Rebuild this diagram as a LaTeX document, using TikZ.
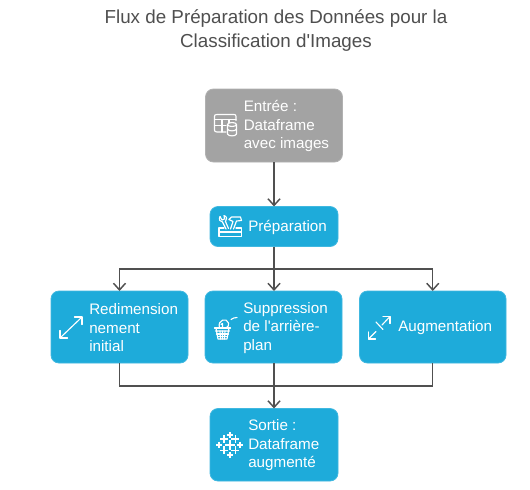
\documentclass[tikz,border=0pt]{standalone}
\usepackage{fontspec}
\setmainfont{Liberation Sans}[Ligatures=TeXOff]
\usetikzlibrary{arrows.meta,calc}
\definecolor{bluebox}{HTML}{1EABDA}
\definecolor{greybox}{HTML}{A3A3A3}
\definecolor{conn}{HTML}{505050}
\definecolor{titlec}{HTML}{4F4F4F}
\tikzset{
  x=0.75pt,y=-0.75pt,
  boxbase/.style={rounded corners=6pt,minimum height=0pt,inner sep=0pt,outer sep=0pt,draw=#1!85!white,line width=0.6pt,fill=#1},
  lbl/.style={text=white,font=\fontsize{11.4}{13.9}\selectfont,align=left,anchor=west,inner sep=0pt},
  flow/.style={draw=conn,line width=1.1pt},
  arrowflow/.style={flow,-{Straight Barb[length=5pt,width=9pt,line width=1.1pt]}},
  ico/.style={draw=white,line width=0.85pt,line cap=round,line join=round},
}
\newcommand{\bx}[6]{\node[boxbase=#6,minimum width=#4*0.75pt,minimum height=#5*0.75pt] (#1) at (#2,#3) {};}
\begin{document}
\begin{tikzpicture}
\useasboundingbox (0,0) rectangle (530,489);
\fill[white] (0,0) rectangle (530,489);
\node[text=titlec,font=\fontsize{14.1}{18}\selectfont,align=center] (title) at (276,31) {Flux de Préparation des Données pour la\\Classification d'Images};
\bx{in}{274}{125.5}{137}{73}{greybox}
\bx{prep}{274}{226.5}{128}{40}{bluebox}
\bx{redim}{119.5}{327}{137}{72}{bluebox}
\bx{supp}{273.5}{327}{137}{72}{bluebox}
\bx{aug}{432.75}{327}{146.5}{72}{bluebox}
\bx{out}{274}{444.75}{128}{72.5}{bluebox}
% labels
\node[lbl] (tin) at (243.5,126) {Entrée :\\Dataframe\\avec images};
\node[lbl] (tprep) at (248,227) {Préparation};
\node[lbl] (tredim) at (89,328) {Redimension\\nement\\initial};
\node[lbl] (tsupp) at (243,328) {Suppression\\de l'arrière-\\plan};
\node[lbl] (taug) at (398,328) {Augmentation};
\node[lbl] (tout) at (248,445.25) {Sortie :\\Dataframe\\augmenté};
% connectors
\coordinate (bus1) at (prep.south |- 0,269);
\coordinate (bus2) at (supp.south |- 0,386);
\draw[arrowflow] (in.south) -- (prep.north);
\draw[flow] (prep.south) -- (bus1);
\draw[arrowflow] (bus1) -| (redim.north);
\draw[arrowflow] (bus1) -- (supp.north -| bus1);
\draw[arrowflow] (bus1) -| (aug.north);
\draw[flow] (redim.south) |- (bus2);
\draw[flow] (aug.south) |- (bus2);
\draw[flow] (supp.south -| bus1) -- (bus1 |- bus2);
\draw[arrowflow] (bus1 |- bus2) -- (out.north);
\begin{scope}[ico]
% icon: table + database
\draw (226,132) -- (217,132) .. controls (215,132) and (214.5,131) .. (214.5,130) -- (214.5,116.5) .. controls (214.5,115) and (215,114.5) .. (217,114.5) -- (234,114.5) .. controls (235.5,114.5) and (236,115) .. (236,116.5) -- (236,120.5);
\draw (214.5,119.5) -- (236,119.5);
\draw (214.5,125.5) -- (226,125.5);
\draw (222,119.5) -- (222,132);
\draw (229,119.5) -- (229,123);
\draw (232,124.5) ellipse [x radius=4.5,y radius=2];
\draw (227.5,124.5) -- (227.5,134) .. controls (228,136.5) and (236,136.5) .. (236.5,134) -- (236.5,124.5);
\draw (227.5,129) .. controls (228,131.5) and (236,131.5) .. (236.5,129);
% icon: toolbox
\draw (224,228) -- (219,228) -- (219,236.5) -- (241.5,236.5) -- (241.5,228) -- (236,228);
\draw (219,232) -- (241.5,232);
\draw (220,216.5) .. controls (218.5,219.5) and (220,222) .. (222.5,222) -- (226,229);
\draw (220,216.5) -- (222,220) -- (224.5,219) -- (224,215.5) .. controls (227,216.5) and (227.5,219.5) .. (225.5,221.5) -- (228.5,228.5);
\draw (229,219.5) -- (231.5,217) -- (240.5,217) -- (241.5,220.5) -- (236.5,221) -- (233.5,229);
\draw (229,219.5) -- (233,221.5) -- (230.5,229);
% icon: resize arrow
\draw (60,338) -- (82,317);
\draw (60,330.5) -- (60,338) -- (67.5,338);
\draw (74.5,317) -- (82,317) -- (82,324.5);
% icon: basket
\draw (214.5,328) -- (230.5,328);
\draw (215.5,331) -- (229.5,331) (216,328) -- (218,339) -- (227,339) -- (229,328);
\draw (216.5,334) -- (228.5,334) (217.5,336.5) -- (227.5,336.5);
\draw (220,331) -- (220.5,339) (222.5,331) -- (222.5,339) (225,331) -- (224.5,339);
\draw (219.5,327.5) .. controls (217,320) and (227,317) .. (228.5,323) .. controls (229,325.5) and (228,327) .. (226.5,327.5);
\draw (222.5,327.5) -- (222.5,323.5) (221,324.5) -- (222.5,323.5);
\draw (231,319.5) .. controls (233,318) and (235,317.5) .. (237,317.5);
% icon: expand arrows
\draw (368.5,339) -- (376,331.5);
\draw (368.5,332) -- (368.5,339) -- (375.5,339);
\draw (382,325) -- (390,316.5);
\draw (383,316.5) -- (390,316.5) -- (390,323.5);
\draw (376,322) -- (383,329.5);
% icon: cross grid
\foreach \cx/\cy/\s in {229.7/444.7/5, 229.7/435/3, 229.7/454.7/3, 219.3/444.7/3, 239.7/444.7/3, 224/439/4, 235.4/439/4, 224/450.4/4, 235.4/450.4/4}{
  \draw[line width=1.25pt,line cap=butt] ({\cx-\s},\cy) -- ({\cx+\s},\cy) (\cx,{\cy-\s}) -- (\cx,{\cy+\s});
}
\end{scope}
\end{tikzpicture}
\end{document}
